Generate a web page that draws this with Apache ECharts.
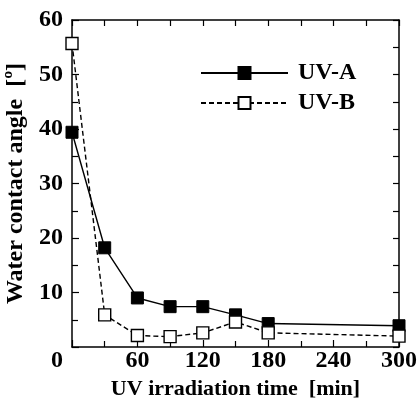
<!DOCTYPE html>
<html>
<head>
<meta charset="utf-8">
<script src="https://cdn.jsdelivr.net/npm/echarts@6/dist/echarts.min.js"></script>
<style>
  html, body { margin: 0; padding: 0; background: #fff; }
  #chart { width: 420px; height: 400px; }
</style>
</head>
<body>
<div id="chart"></div>
<script>
const times = [0, 30, 60, 90, 120, 150, 180, 300];
const uvA = [39.4, 18.2, 9.0, 7.4, 7.4, 5.9, 4.3, 3.9];
const uvB = [55.7, 5.9, 2.1, 1.9, 2.6, 4.6, 2.6, 2.0];

const font = '"Liberation Serif", "Times New Roman", serif';
const axisLine = { show: true, onZero: false, lineStyle: { color: '#000', width: 1.5 } };
const tick = { inside: true, length: 7, lineStyle: { color: '#000', width: 1.2 } };

const chart = echarts.init(document.getElementById('chart'));

chart.setOption({
  animation: false,
  grid: { left: 72, right: 21, top: 20, bottom: 53, containLabel: false, outerBoundsMode: 'none' },
  legend: {
    left: 195,
    top: 56,
    orient: 'vertical',
    itemWidth: 87,
    itemHeight: 15,
    itemGap: 6,
    textStyle: { fontFamily: font, fontWeight: 'bold', fontSize: 24, color: '#000', padding: [0, 0, 0, 5] },
    data: ['UV-A', 'UV-B']
  },
  xAxis: [
    {
      type: 'value',
      min: 0, max: 300, interval: 60,
      axisLine: axisLine,
      axisTick: tick,
      minorTick: { show: true, splitNumber: 2, length: 6, lineStyle: { color: '#000', width: 1.2 } },
      splitLine: { show: false },
      axisLabel: {
        fontFamily: font, fontWeight: 'bold', fontSize: 24, color: '#000', margin: 2,
        formatter: v => (v === 0 ? '{z|0}' : v),
        rich: { z: { fontFamily: font, fontWeight: 'bold', fontSize: 24, color: '#000', padding: [0, 30, 0, 0] } }
      },
      name: 'UV irradiation time  [min]',
      nameLocation: 'middle',
      nameGap: 29,
      nameTextStyle: { fontFamily: font, fontWeight: 'bold', fontSize: 22, color: '#000' }
    },
    {
      type: 'value', position: 'top',
      min: 0, max: 300, interval: 30,
      axisLine: axisLine,
      axisTick: { inside: true, length: 6, lineStyle: { color: '#000', width: 1.2 } },
      axisLabel: { show: false },
      splitLine: { show: false }
    }
  ],
  yAxis: [
    {
      type: 'value',
      min: 0, max: 60, interval: 10,
      axisLine: axisLine,
      axisTick: tick,
      minorTick: { show: true, splitNumber: 2, length: 6, lineStyle: { color: '#000', width: 1.2 } },
      splitLine: { show: false },
      axisLabel: {
        fontFamily: font, fontWeight: 'bold', fontSize: 24, color: '#000', margin: 9,
        formatter: v => (v === 0 ? '' : v)
      },
      name: 'Water contact angle  [º]',
      nameLocation: 'middle',
      nameGap: 39,
      nameTextStyle: { fontFamily: font, fontWeight: 'bold', fontSize: 24, color: '#000' }
    },
    {
      type: 'value', position: 'right',
      min: 0, max: 60, interval: 5,
      axisLine: axisLine,
      axisTick: { inside: true, length: 6, lineStyle: { color: '#000', width: 1.2 } },
      axisLabel: { show: false },
      splitLine: { show: false }
    }
  ],
  series: [
    {
      name: 'UV-A',
      type: 'line',
      clip: false,
      data: times.map((t, i) => [t, uvA[i]]),
      symbol: 'rect',
      symbolSize: 12,
      itemStyle: { color: '#000', borderColor: '#000', borderWidth: 1 },
      lineStyle: { color: '#000', width: 1.4, type: 'solid' },
      z: 3
    },
    {
      name: 'UV-B',
      type: 'line',
      clip: false,
      data: times.map((t, i) => [t, uvB[i]]),
      symbol: 'rect',
      symbolSize: 12,
      itemStyle: { color: '#fff', borderColor: '#000', borderWidth: 1.4 },
      lineStyle: { color: '#000', width: 1.4, type: [5, 3] },
      z: 4
    }
  ]
});
</script>
</body>
</html>
